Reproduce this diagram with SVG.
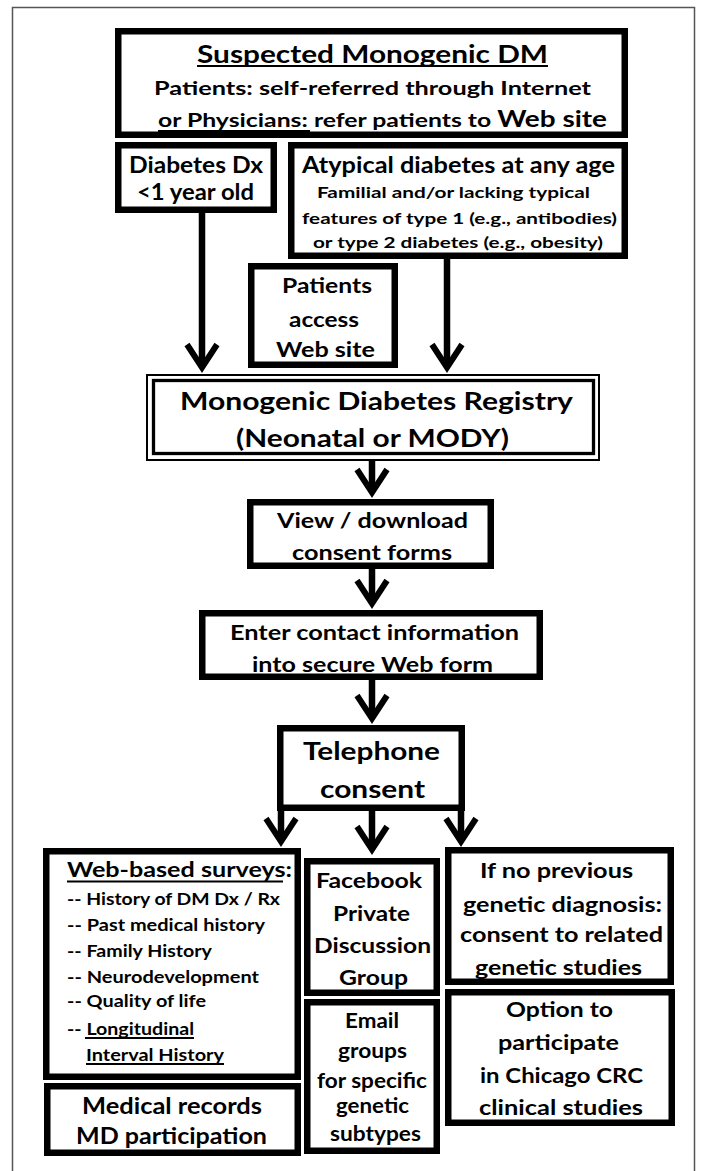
<svg xmlns="http://www.w3.org/2000/svg" width="709" height="1171" viewBox="0 0 709 1171">
<style>
.box{fill:#fff;stroke:#000;stroke-width:6.5}
.t{font-family:Lato,"Open Sans","Liberation Sans",sans-serif;font-weight:700;fill:#000}
.ul{stroke:#000;stroke-width:1.8}
.con{fill:none;stroke:#000;stroke-width:6.5;marker-end:url(#chev)}
</style>
<defs>
<marker id="chev" markerUnits="userSpaceOnUse" orient="auto" markerWidth="50" markerHeight="40" viewBox="-30 -20 50 40" refX="0" refY="0" overflow="visible">
<path d="M-18.5,-15 L4.5,0 L-18.5,15" fill="none" stroke="#000" stroke-width="6"/>
</marker>
</defs>
<rect width="709" height="1171" fill="#fff"/>
<path d="M12.5,1171 V7.5 H694.5 V1171" fill="none" stroke="#555" stroke-width="1.5"/>

<g id="connectors">
<path class="con" d="M202,213 V363"/>
<path class="con" d="M447,259 V363"/>
<path class="con" d="M372,461 V488"/>
<path class="con" d="M372,569 V599"/>
<path class="con" d="M372,680 V714"/>
<path class="con" d="M281,808 V837"/>
<path class="con" d="M372,808 V845"/>
<path class="con" d="M461,808 V837"/>
</g>

<g id="suspected">
<rect class="box" x="118.25" y="31.25" width="506.5" height="103.5"/>
<text class="t" x="197" y="62.5" font-size="25" textLength="351" lengthAdjust="spacingAndGlyphs">Suspected Monogenic DM</text>
<line class="ul" x1="197" y1="66" x2="548" y2="66" stroke-width="2"/>
<text class="t" x="154" y="95" font-size="19.5" textLength="437" lengthAdjust="spacingAndGlyphs">Patients: self-referred through Internet</text>
<text class="t" x="158" y="127" font-size="19.5" textLength="449" lengthAdjust="spacingAndGlyphs">or Physicians: refer patients to <tspan font-size="22">Web site</tspan></text>
<line class="ul" x1="158" y1="131" x2="310" y2="131"/>
</g>

<g id="dx1">
<rect class="box" x="118.25" y="145.25" width="155.5" height="64.5"/>
<text class="t" x="129" y="173" font-size="22" textLength="134" lengthAdjust="spacingAndGlyphs">Diabetes Dx</text>
<text class="t" x="137" y="200" font-size="22" textLength="117" lengthAdjust="spacingAndGlyphs">&lt;1 year old</text>
</g>

<g id="atypical">
<rect class="box" x="291.25" y="145.25" width="333.5" height="110.5"/>
<text class="t" x="302" y="173" font-size="22" textLength="313" lengthAdjust="spacingAndGlyphs">Atypical diabetes at any age</text>
<text class="t" x="317" y="198" font-size="16" textLength="273" lengthAdjust="spacingAndGlyphs">Familial and/or lacking typical</text>
<text class="t" x="302" y="224" font-size="16" textLength="315" lengthAdjust="spacingAndGlyphs">features of type 1 (e.g., antibodies)</text>
<text class="t" x="313" y="248" font-size="16" textLength="290" lengthAdjust="spacingAndGlyphs">or type 2 diabetes (e.g., obesity)</text>
</g>

<g id="access">
<rect class="box" x="251.25" y="266.25" width="143.5" height="98.5"/>
<text class="t" x="282" y="293" font-size="20" textLength="90" lengthAdjust="spacingAndGlyphs">Patients</text>
<text class="t" x="289" y="327" font-size="20" textLength="70" lengthAdjust="spacingAndGlyphs">access</text>
<text class="t" x="276" y="357" font-size="20" textLength="99" lengthAdjust="spacingAndGlyphs">Web site</text>
</g>

<g id="registry">
<rect x="147" y="375" width="452" height="85" fill="#fff" stroke="#000" stroke-width="2"/>
<rect x="153.5" y="380.5" width="440" height="73" fill="none" stroke="#000" stroke-width="3.3"/>
<text class="t" x="180" y="410" font-size="25.5" textLength="393" lengthAdjust="spacingAndGlyphs">Monogenic Diabetes Registry</text>
<text class="t" x="236" y="447" font-size="25.5" textLength="273" lengthAdjust="spacingAndGlyphs">(Neonatal or MODY)</text>
</g>

<g id="view">
<rect class="box" x="250.25" y="502.25" width="240.5" height="63.5"/>
<text class="t" x="277" y="528" font-size="21" textLength="191" lengthAdjust="spacingAndGlyphs">View / download</text>
<text class="t" x="292" y="560" font-size="21" textLength="160" lengthAdjust="spacingAndGlyphs">consent forms</text>
</g>

<g id="enter">
<rect class="box" x="202.25" y="613.25" width="337.5" height="63.5"/>
<text class="t" x="230" y="640" font-size="21" textLength="289" lengthAdjust="spacingAndGlyphs">Enter contact information</text>
<text class="t" x="252" y="672" font-size="21" textLength="241" lengthAdjust="spacingAndGlyphs">into secure Web form</text>
</g>

<g id="telephone">
<rect class="box" x="280.25" y="728.25" width="181.5" height="79.5"/>
<text class="t" x="303" y="760" font-size="25.5" textLength="137" lengthAdjust="spacingAndGlyphs">Telephone</text>
<text class="t" x="320" y="798" font-size="25.5" textLength="105" lengthAdjust="spacingAndGlyphs">consent</text>
</g>

<g id="surveys">
<rect class="box" x="46.25" y="851.25" width="251.5" height="225.5"/>
<text class="t" x="67" y="877" font-size="21" textLength="225" lengthAdjust="spacingAndGlyphs">Web-based surveys:</text>
<line class="ul" x1="67" y1="881.5" x2="283" y2="881.5" stroke-width="2"/>
<text class="t" x="67" y="905" font-size="17" textLength="213" lengthAdjust="spacingAndGlyphs">-- History of DM Dx / Rx</text>
<text class="t" x="67" y="931" font-size="17" textLength="198" lengthAdjust="spacingAndGlyphs">-- Past medical history</text>
<text class="t" x="67" y="957" font-size="17" textLength="145" lengthAdjust="spacingAndGlyphs">-- Family History</text>
<text class="t" x="67" y="983" font-size="17" textLength="192" lengthAdjust="spacingAndGlyphs">-- Neurodevelopment</text>
<text class="t" x="67" y="1007" font-size="17" textLength="139" lengthAdjust="spacingAndGlyphs">-- Quality of life</text>
<text class="t" x="67" y="1035" font-size="17" textLength="127" lengthAdjust="spacingAndGlyphs">-- Longitudinal</text>
<line class="ul" x1="85" y1="1038" x2="194" y2="1038" stroke-width="1.5"/>
<text class="t" x="86" y="1061" font-size="17" textLength="138" lengthAdjust="spacingAndGlyphs">Interval History</text>
<line class="ul" x1="86" y1="1064" x2="224" y2="1064" stroke-width="1.5"/>
</g>

<g id="medical">
<rect class="box" x="47.25" y="1086.25" width="250.5" height="66.5"/>
<text class="t" x="82" y="1114" font-size="22" textLength="180" lengthAdjust="spacingAndGlyphs">Medical records</text>
<text class="t" x="76" y="1144" font-size="22" textLength="191" lengthAdjust="spacingAndGlyphs">MD participation</text>
</g>

<g id="facebook">
<rect class="box" x="307.25" y="861.25" width="129.5" height="131.5"/>
<text class="t" x="316" y="888" font-size="21" textLength="106" lengthAdjust="spacingAndGlyphs">Facebook</text>
<text class="t" x="333" y="921" font-size="21" textLength="77" lengthAdjust="spacingAndGlyphs">Private</text>
<text class="t" x="314" y="953" font-size="21" textLength="117" lengthAdjust="spacingAndGlyphs">Discussion</text>
<text class="t" x="339" y="985" font-size="21" textLength="69" lengthAdjust="spacingAndGlyphs">Group</text>
</g>

<g id="email">
<rect class="box" x="307.25" y="1002.25" width="129.5" height="148.5"/>
<text class="t" x="345" y="1028" font-size="20" textLength="54" lengthAdjust="spacingAndGlyphs">Email</text>
<text class="t" x="338" y="1058" font-size="20" textLength="69" lengthAdjust="spacingAndGlyphs">groups</text>
<text class="t" x="317" y="1088" font-size="20" textLength="110" lengthAdjust="spacingAndGlyphs">for specific</text>
<text class="t" x="336" y="1113" font-size="20" textLength="73" lengthAdjust="spacingAndGlyphs">genetic</text>
<text class="t" x="330" y="1141" font-size="20" textLength="91" lengthAdjust="spacingAndGlyphs">subtypes</text>
</g>

<g id="genetic">
<rect class="box" x="448.25" y="850.25" width="222.5" height="131.5"/>
<text class="t" x="480" y="878" font-size="21" textLength="153" lengthAdjust="spacingAndGlyphs">If no previous</text>
<text class="t" x="463" y="912" font-size="21" textLength="199" lengthAdjust="spacingAndGlyphs">genetic diagnosis:</text>
<text class="t" x="460" y="942" font-size="21" textLength="203" lengthAdjust="spacingAndGlyphs">consent to related</text>
<text class="t" x="475" y="975" font-size="21" textLength="167" lengthAdjust="spacingAndGlyphs">genetic studies</text>
</g>

<g id="option">
<rect class="box" x="448.25" y="992.25" width="223.5" height="130.5"/>
<text class="t" x="506" y="1017" font-size="21" textLength="107" lengthAdjust="spacingAndGlyphs">Option to</text>
<text class="t" x="498" y="1050" font-size="21" textLength="121" lengthAdjust="spacingAndGlyphs">participate</text>
<text class="t" x="480" y="1083" font-size="21" textLength="163" lengthAdjust="spacingAndGlyphs">in Chicago CRC</text>
<text class="t" x="479" y="1115" font-size="21" textLength="164" lengthAdjust="spacingAndGlyphs">clinical studies</text>
</g>
</svg>
